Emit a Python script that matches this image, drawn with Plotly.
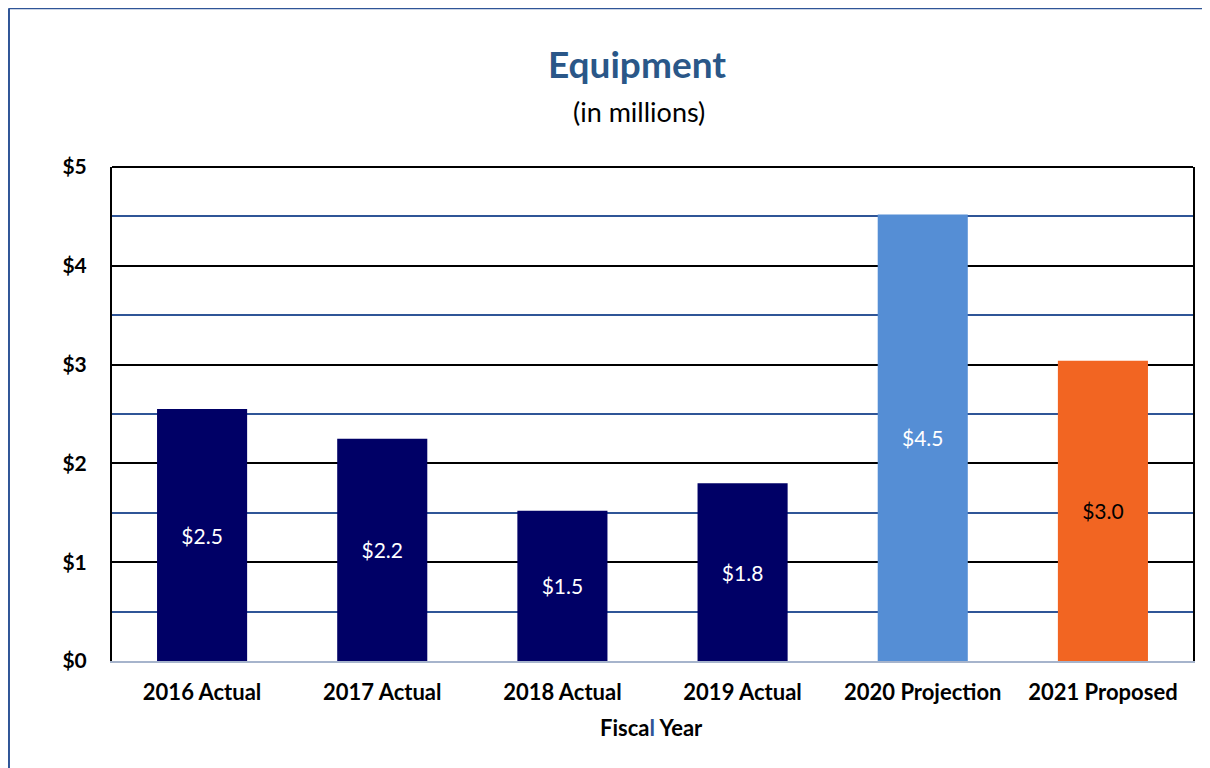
import plotly.graph_objects as go

categories = ['2016 Actual', '2017 Actual', '2018 Actual', '2019 Actual', '2020 Projection', '2021 Proposed']
values = [2.55, 2.25, 1.52, 1.80, 4.52, 3.04]
value_labels = ['$2.5', '$2.2', '$1.5', '$1.8', '$4.5', '$3.0']
bar_colors = ['#000066', '#000066', '#000066', '#000066', '#558ed5', '#f26522']
label_colors = ['white', 'white', 'white', 'white', 'white', 'black']

font_name = 'Lato, "Open Sans", sans-serif'
blue = '#2f5597'

fig = go.Figure()

fig.add_trace(go.Bar(
    x=categories,
    y=values,
    text=value_labels,
    textposition='inside',
    insidetextanchor='middle',
    textfont=dict(color=label_colors, size=21, family=font_name),
    marker=dict(color=bar_colors, line=dict(width=0)),
    hoverinfo='skip',
    showlegend=False
))

fig.update_layout(
    width=1202,
    height=760,
    margin=dict(l=104, r=17, t=159, b=107),
    paper_bgcolor='white',
    plot_bgcolor='white',
    bargap=0.5,
    font=dict(family=font_name, color='black'),
    xaxis=dict(
        showline=True,
        linecolor='#a6b4cc',
        linewidth=2,
        showgrid=False,
        ticks='',
        ticklabelstandoff=11,
        tickfont=dict(size=22, family=font_name, weight='bold'),
    ),
    yaxis=dict(
        range=[0, 5],
        dtick=1,
        tickprefix='$',
        showline=True,
        mirror=True,
        linecolor='black',
        linewidth=2,
        showgrid=True,
        gridcolor='black',
        gridwidth=1.5,
        zeroline=False,
        ticks='',
        ticklabelstandoff=19,
        tickfont=dict(size=21, family=font_name, weight='bold'),
        minor=dict(dtick=0.5, showgrid=True, gridcolor=blue, gridwidth=1.5),
    ),
    annotations=[
        dict(text='<b>Equipment</b>', xref='paper', yref='paper', x=0.4857, y=1.2105,
             showarrow=False, xanchor='center', yanchor='middle',
             font=dict(size=37, color='#2a5788', family=font_name)),
        dict(text='(in millions)', xref='paper', yref='paper', x=0.4875, y=1.113,
             showarrow=False, xanchor='center', yanchor='middle',
             font=dict(size=27, color='black', family=font_name)),
        dict(text=f'<b>Fisca<span style="color:{blue}">l</span> Year</b>', xref='paper', yref='paper',
             x=0.4995, y=-0.1356, showarrow=False, xanchor='center', yanchor='middle',
             font=dict(size=22, color='black', family=font_name)),
    ],
    shapes=[
        # top frame of the plot area
        dict(type='line', xref='paper', yref='paper', x0=0, x1=1, y0=1, y1=1,
             line=dict(color='black', width=2)),
        # outer chart border (only top and left edges are in view)
        dict(type='line', xref='paper', yref='paper', x0=-0.0953, x1=1.1, y0=1.3215, y1=1.3215,
             line=dict(color=blue, width=2), layer='above'),
        dict(type='line', xref='paper', yref='paper', x0=-0.0953, x1=-0.0953, y0=-0.3, y1=1.3215,
             line=dict(color=blue, width=2), layer='above'),
    ],
)

fig.write_html("out.html")
